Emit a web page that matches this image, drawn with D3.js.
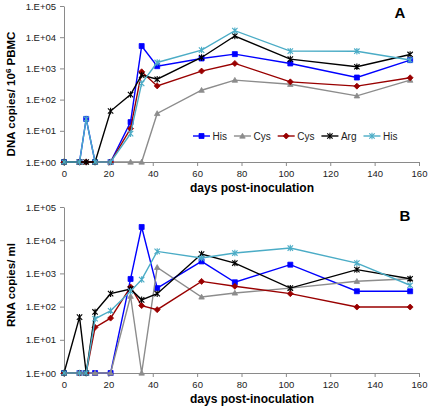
<!DOCTYPE html>
<html>
<head>
<meta charset="utf-8">
<script src="https://cdn.jsdelivr.net/npm/d3@7"></script>
<style>
html,body{margin:0;padding:0;background:#fff;}
svg{display:block;font-family:"Liberation Sans",Arial,sans-serif;}
</style>
</head>
<body>
<svg id="chart" width="430" height="408"></svg>
<script>
// ---- data ----
const days = [0, 7, 10, 14, 21, 30, 35, 42, 62, 77, 102, 132, 156];
const seriesNames = ["His", "Cys", "Cys", "Arg", "His"];
const xTicks = [0, 20, 40, 60, 80, 100, 120, 140, 160];
const yTicks = [1, 10, 100, 1000, 10000, 100000];
const yTickLabels = ["1.E+00", "1.E+01", "1.E+02", "1.E+03", "1.E+04", "1.E+05"];

// Panel A: DNA copies / 10^6 PBMC
const dnaHisA = [1, 1, 24, 1, 1, 19, 5200, 1180, 2080, 2870, 1440, 510, 1850];
const dnaCys1 = [1, 1, 1, 1, 1, 1, 1, 36, 200, 420, 310, 132, 420];
const dnaCys2 = [1, 1, 1, 1, 1, 11.8, 780, 275, 820, 1440, 370, 270, 500];
const dnaArg  = [1, 1, 1, 1, 43, 145, 610, 450, 2240, 10900, 1990, 1130, 2800];
const dnaHisB = [1, 1, 24, 1, 1, 8.1, 330, 1550, 3860, 16200, 3570, 3560, 1850];

// Panel B: RNA copies / ml
const rnaHisA = [1, 1, 1, 1, 1, 680, 25000, 360, 2300, 540, 1830, 290, 290];
const rnaCys1 = [1, 1, 1, 1, 1, 205, 1, 1520, 195, 257, 360, 580, 690];
const rnaCys2 = [1, 1, 1, 23.7, 45, 390, 107, 81, 575, 410, 245, 97, 97];
const rnaArg  = [1, 48, 1, 69, 245, 340, 160, 245, 3840, 2050, 360, 1300, 690];
const rnaHisB = [1, 1, 1, 43, 75, 290, 650, 4600, 2900, 4100, 5800, 2050, 440];

// ---- styles ----
const colors = ["#0000FF", "#8C8C8C", "#990000", "#000000", "#4BACC6"];
const markers = ["square", "triangle", "diamond", "star", "star"];

const svg = d3.select("#chart");

function markerPath(type, s) {
  switch (type) {
    case "square": return `M${-s},${-s}H${s}V${s}H${-s}Z`;
    case "triangle": return `M0,${-s*1.1}L${s*1.1},${s*0.85}H${-s*1.1}Z`;
    case "diamond": return `M0,${-s*1.2}L${s*1.2},0L0,${s*1.2}L${-s*1.2},0Z`;
    case "star": return `M${-s},${-s}L${s},${s}M${-s},${s}L${s},${-s}M0,${-s*1.2}V${s*1.2}`;
  }
}
const mSize = t => t === "star" ? 2.7 : 2.5;

function drawMarker(sel, k) {
  const t = markers[k];
  sel.attr("d", markerPath(t, mSize(t)))
    .attr("fill", t === "star" ? "none" : colors[k])
    .attr("stroke", colors[k]).attr("stroke-width", t === "star" ? 1.1 : 0.8);
}

function drawPanel(cfg) {
  const x = d3.scaleLinear().domain([0, 160]).range([64, 419]);
  const y = d3.scaleLog().domain([1, 100000]).range([cfg.y0, cfg.y1]);
  const g = svg.append("g");

  // axes
  const ay = g.append("g").attr("transform", "translate(64,0)")
    .call(d3.axisLeft(y).tickValues(yTicks).tickSize(4).tickSizeOuter(0)
      .tickFormat((d, i) => yTickLabels[i]));
  const ax = g.append("g").attr("transform", `translate(0,${cfg.y0})`)
    .call(d3.axisBottom(x).tickValues(xTicks).tickSize(4).tickSizeOuter(0));
  [ay, ax].forEach(a => {
    a.selectAll("path,line").attr("stroke", "#8a8a8a");
    a.selectAll("text").attr("fill", "#222").style("font-size", "9.5px")
      .style("font-family", "'Liberation Sans',Arial,sans-serif");
  });
  ay.selectAll("text").attr("x", -8);
  ax.selectAll("text").attr("y", 8);

  // series
  const line = d3.line().x((d, i) => x(days[i])).y(d => y(d));
  cfg.series.forEach((vals, k) => {
    const sg = g.append("g");
    sg.append("path").datum(vals).attr("d", line).attr("fill", "none")
      .attr("stroke", colors[k]).attr("stroke-width", 1.4);
    sg.selectAll("path.m").data(vals).enter().append("path").attr("class", "m")
      .attr("transform", (d, i) => `translate(${x(days[i])},${y(d)})`)
      .call(drawMarker, k);
  });

  // titles
  g.append("text").attr("x", 252).attr("y", cfg.y0 + 30).attr("text-anchor", "middle")
    .style("font-weight", "bold").style("font-size", "12px").text("days post-inoculation");
  const yt = g.append("text")
    .attr("transform", `translate(15,${cfg.yTitleY}) rotate(-90)`)
    .attr("text-anchor", "middle").style("font-weight", "bold").style("font-size", "11.5px");
  cfg.yTitle(yt);
  g.append("text").attr("x", cfg.letterX).attr("y", cfg.letterY).attr("text-anchor", "middle")
    .style("font-weight", "bold").style("font-size", "15px").text(cfg.letter);
}

drawPanel({
  y0: 162, y1: 6, yTitleY: 94,
  series: [dnaHisA, dnaCys1, dnaCys2, dnaArg, dnaHisB],
  letter: "A", letterX: 400, letterY: 18,
  yTitle: t => {
    t.append("tspan").text("DNA copies/ 10");
    t.append("tspan").attr("dy", -4).style("font-size", "8px").text("6");
    t.append("tspan").attr("dy", 4).text(" PBMC");
  }
});

drawPanel({
  y0: 373, y1: 207, yTitleY: 285,
  series: [rnaHisA, rnaCys1, rnaCys2, rnaArg, rnaHisB],
  letter: "B", letterX: 405, letterY: 221,
  yTitle: t => t.text("RNA copies/ ml")
});

// legend (panel A)
const leg = svg.append("g").attr("transform", "translate(193,136)");
let lx = 0;
seriesNames.forEach((name, k) => {
  const e = leg.append("g").attr("transform", `translate(${lx},0)`);
  e.append("line").attr("x1", 0).attr("x2", 17).attr("y1", 0).attr("y2", 0)
    .attr("stroke", colors[k]).attr("stroke-width", 1.4);
  e.append("path").attr("transform", "translate(8.5,0)").call(drawMarker, k);
  const t = e.append("text").attr("x", 19.5).attr("y", 3.5).style("font-size", "10px")
    .attr("fill", "#222").text(name);
  lx += 19.5 + t.node().getComputedTextLength() + 7;
});
</script>
</body>
</html>
